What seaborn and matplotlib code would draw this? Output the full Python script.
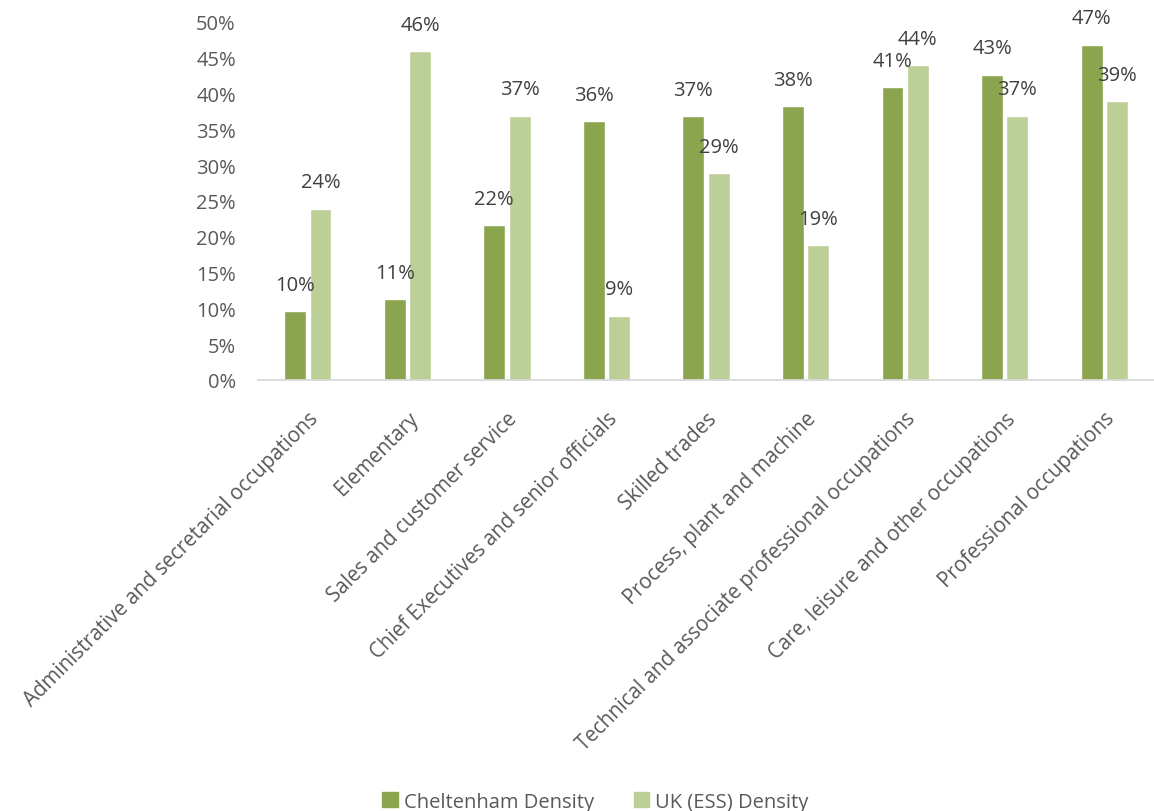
import matplotlib
matplotlib.use("Agg")
import matplotlib.pyplot as plt
import seaborn as sns
import pandas as pd

occupations = [
    "Administrative and secretarial occupations",
    "Elementary",
    "Sales and customer service",
    "Chief Executives and senior officials",
    "Skilled trades",
    "Process, plant and machine",
    "Technical and associate professional occupations",
    "Care, leisure and other occupations",
    "Professional occupations",
]
series_names = ["Cheltenham Density", "UK (ESS) Density"]
cheltenham = [9.6, 11.3, 21.6, 36.1, 36.8, 38.2, 40.9, 42.6, 46.8]
uk_ess = [23.9, 45.9, 36.9, 9.0, 28.9, 18.8, 43.9, 36.9, 38.9]
y_ticks = [0, 5, 10, 15, 20, 25, 30, 35, 40, 45, 50]

df = pd.DataFrame({
    "Occupation": occupations * 2,
    "Series": [series_names[0]] * len(occupations) + [series_names[1]] * len(occupations),
    "Density": cheltenham + uk_ess,
})

sns.set_theme(style="white")
plt.rcParams["font.family"] = ["Open Sans", "DejaVu Sans"]

dark_green = "#8BA54E"
light_green = "#BBCF97"
axis_text = "#595959"
label_text = "#404040"

fig = plt.figure(figsize=(11.54, 8.12), dpi=100)
ax = fig.add_axes([0.2236, 0.5308, 0.7764, 0.4412])

sns.barplot(
    data=df, x="Occupation", y="Density", hue="Series",
    order=occupations, hue_order=series_names,
    palette=[dark_green, light_green], width=0.508, gap=0.134,
    saturation=1, legend=False, ax=ax,
)

ax.set_xlim(-0.5, len(occupations) - 0.5)
ax.set_ylim(0, 50)
ax.set_yticks(y_ticks)
ax.set_yticklabels([f"{t}%" for t in y_ticks])
ax.set_xlabel("")
ax.set_ylabel("")

for side in ["left", "right", "top"]:
    ax.spines[side].set_visible(False)
ax.spines["bottom"].set_color("#D9D9D9")
ax.spines["bottom"].set_linewidth(1.3)

ax.tick_params(axis="y", length=0, pad=16, labelsize=14.5, labelcolor=axis_text)
ax.tick_params(axis="x", length=0, pad=20, labelsize=14.8, labelcolor=axis_text)
for lbl in ax.get_xticklabels():
    lbl.set_rotation(45)
    lbl.set_rotation_mode("anchor")
    lbl.set_ha("right")
    lbl.set_va("top")

# value labels above each bar
for container in ax.containers:
    for bar in container:
        h = bar.get_height()
        ax.annotate(
            f"{h:.0f}%",
            xy=(bar.get_x() + bar.get_width() / 2, h),
            xytext=(0, 19), textcoords="offset points",
            ha="center", va="center", fontsize=14.5, color=label_text,
        )

handles = [
    plt.Rectangle((0, 0), 1, 1, color=dark_green),
    plt.Rectangle((0, 0), 1, 1, color=light_green),
]
leg = fig.legend(
    handles, series_names, loc="lower center", bbox_to_anchor=(0.516, -0.023),
    ncol=2, frameon=False, fontsize=14.5, handlelength=0.75, handleheight=0.75,
    handletextpad=0.3, columnspacing=2.0,
)
for t in leg.get_texts():
    t.set_color(axis_text)

fig.savefig("out.png", dpi=100)
